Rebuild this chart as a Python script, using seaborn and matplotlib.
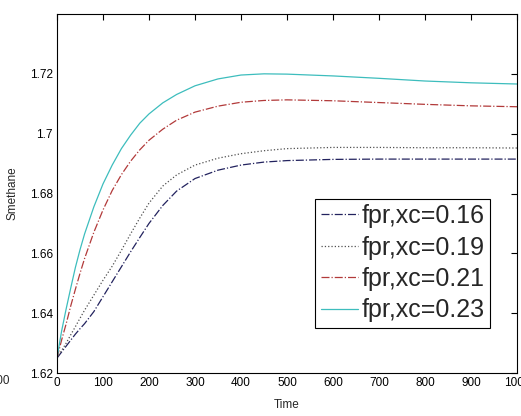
import matplotlib
matplotlib.use("Agg")
import matplotlib.pyplot as plt
import seaborn as sns
import pandas as pd

time = [0, 10, 20, 30, 40, 50, 60, 80, 100, 120, 140, 160, 180, 200, 230, 260,
        300, 350, 400, 450, 500, 600, 700, 800, 900, 1000]

s_016 = [1.625, 1.627, 1.629, 1.631, 1.633, 1.6348, 1.6365, 1.6405, 1.6455, 1.6505,
         1.6555, 1.6605, 1.6653, 1.6700, 1.6760, 1.6808, 1.6850, 1.6878, 1.6895,
         1.6905, 1.6910, 1.6914, 1.6915, 1.6915, 1.6915, 1.6915]
s_019 = [1.625, 1.6275, 1.630, 1.6328, 1.6355, 1.6383, 1.641, 1.646, 1.651, 1.6557,
         1.661, 1.6665, 1.6718, 1.6768, 1.6825, 1.6862, 1.6895, 1.6918, 1.6933,
         1.6943, 1.6950, 1.6954, 1.6954, 1.6953, 1.6953, 1.6952]
s_021 = [1.625, 1.631, 1.6365, 1.6425, 1.648, 1.6533, 1.6583, 1.667, 1.6745, 1.681,
         1.6863, 1.6908, 1.6946, 1.6978, 1.7015, 1.7045, 1.7072, 1.7092, 1.7105,
         1.7111, 1.7113, 1.7110, 1.7104, 1.7098, 1.7093, 1.7090]
s_023 = [1.625, 1.634, 1.6415, 1.6485, 1.6553, 1.6612, 1.6665, 1.6755, 1.6832, 1.6895,
         1.6950, 1.6995, 1.7035, 1.7066, 1.7103, 1.7131, 1.716, 1.7183, 1.7196,
         1.7200, 1.7199, 1.7193, 1.7185, 1.7176, 1.7170, 1.7166]

labels = ["fpr,xc=0.16", "fpr,xc=0.19", "fpr,xc=0.21", "fpr,xc=0.23"]
series = [s_016, s_019, s_021, s_023]
colors = ["#22225e", "#505050", "#b23a3a", "#3dbdbd"]
styles = ["-.", ":", "-.", "-"]

xticks = [0, 100, 200, 300, 400, 500, 600, 700, 800, 900, 1000]
yticks = [1.62, 1.64, 1.66, 1.68, 1.70, 1.72]
ytick_labels = ["1.62", "1.64", "1.66", "1.68", "1.7", "1.72"]

sns.set_style("white")
plt.rcParams['font.family'] = ['Liberation Sans', 'DejaVu Sans']

fig = plt.figure(figsize=(5.21, 4.16), dpi=100)
ax = fig.add_axes([57/521, 1-373/416, (517-57)/521, (373-14)/416])

for lab, vals, c, ls in zip(labels, series, colors, styles):
    df = pd.DataFrame({"Time": time, "S": vals})
    sns.lineplot(data=df, x="Time", y="S", ax=ax, color=c, linestyle=ls,
                 linewidth=0.9, label=lab)

ax.set_xlim(0, 1000)
ax.set_ylim(1.62, 1.74)
ax.set_xticks(xticks)
ax.set_xticklabels([str(t) for t in xticks])
ax.set_yticks(yticks)
ax.set_yticklabels(ytick_labels)
ax.tick_params(direction='in', length=4, width=0.8, top=True, right=True,
               labelsize=8.5, colors='black', pad=3)
for sp in ax.spines.values():
    sp.set_visible(True)
    sp.set_color('black')
    sp.set_linewidth(0.8)

ax.set_xlabel("Time", fontsize=8.5, labelpad=7)
ax.set_ylabel("Smethane", fontsize=8.5, labelpad=8)

leg = ax.legend(loc='lower right', bbox_to_anchor=((490-57)/460, (373-328)/359),
                fontsize=18, handlelength=1.5, handletextpad=0.12,
                labelspacing=0.3, borderpad=0.22, borderaxespad=0,
                frameon=True, fancybox=False, framealpha=1)
leg.get_frame().set_edgecolor('black')
leg.get_frame().set_linewidth(0.8)

fig.text(10/521, 1-381/416, "1000", ha='right', va='center', fontsize=8.5)

fig.savefig("out.png", dpi=100)
